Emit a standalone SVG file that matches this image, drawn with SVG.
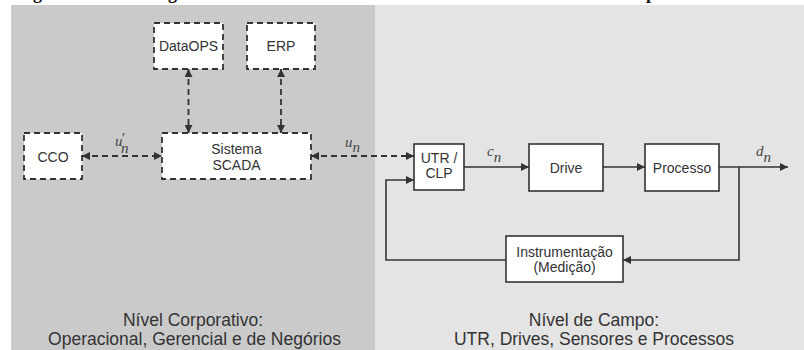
<svg xmlns="http://www.w3.org/2000/svg" width="804" height="350" viewBox="0 0 804 350">
<defs>
<marker id="ah" viewBox="0 0 10 10" refX="10" refY="5" markerWidth="9" markerHeight="8" markerUnits="userSpaceOnUse" orient="auto-start-reverse">
<path d="M0,0 L10,5 L0,10 z" fill="#333"/>
</marker>
<style>
.lbl{font-family:"Liberation Sans",Arial,sans-serif;font-size:14px;fill:#333;text-anchor:middle}
.big{font-family:"Liberation Sans",Arial,sans-serif;font-size:17.5px;fill:#333;text-anchor:middle}
.math{font-family:"Liberation Serif","Times New Roman",serif;font-style:italic;font-size:15px;fill:#444}
.ttl{font-family:"Liberation Serif","Times New Roman",serif;font-weight:bold;font-size:18px;fill:#111}
.dbox{fill:#fff;stroke:#333;stroke-width:1.8;stroke-dasharray:6,4}
.sbox{fill:#fff;stroke:#333;stroke-width:1.6}
.dl{fill:none;stroke:#333;stroke-width:1.8;stroke-dasharray:6,4}
.sl{fill:none;stroke:#333;stroke-width:1.6}
</style>
</defs>
<rect x="0" y="0" width="804" height="350" fill="#fff"/>
<text class="ttl" x="33" y="-1">g</text>
<text class="ttl" x="168" y="-1">g</text>
<text class="ttl" x="646" y="-1">p</text>
<rect x="11" y="5" width="364" height="345" fill="#cacaca"/>
<rect x="375" y="5" width="429" height="345" fill="#e4e4e4"/>
<g id="connectors">
<line class="dl" x1="188.5" y1="69" x2="188.5" y2="133" marker-start="url(#ah)" marker-end="url(#ah)"/>
<line class="dl" x1="281" y1="69" x2="281" y2="133" marker-start="url(#ah)" marker-end="url(#ah)"/>
<line class="dl" x1="82" y1="156" x2="162" y2="156" marker-start="url(#ah)" marker-end="url(#ah)"/>
<line class="dl" x1="311" y1="156" x2="414" y2="156" marker-start="url(#ah)" marker-end="url(#ah)"/>
<line class="sl" x1="464" y1="167" x2="529" y2="167" marker-end="url(#ah)"/>
<line class="sl" x1="603" y1="167" x2="645" y2="167" marker-end="url(#ah)"/>
<line class="sl" x1="719" y1="167" x2="788" y2="167" marker-end="url(#ah)"/>
<polyline class="sl" points="739,167 739,260 623,260" marker-end="url(#ah)"/>
<polyline class="sl" points="506,260 386,260 386,180 414,180" marker-end="url(#ah)"/>
<text class="math" x="115" y="146">u</text>
<text class="math" x="121" y="143" font-style="normal" font-size="12">′</text>
<text class="math" x="121" y="153">n</text>
<text class="math" x="345" y="147">u<tspan dy="5">n</tspan></text>
<text class="math" x="487" y="156">c<tspan dy="6">n</tspan></text>
<text class="math" x="756" y="156">d<tspan dy="6">n</tspan></text>
</g>
<g id="dataops"><rect class="dbox" x="154" y="23" width="69" height="46"/><text class="lbl" x="188.5" y="51">DataOPS</text></g>
<g id="erp"><rect class="dbox" x="247" y="23" width="68" height="46"/><text class="lbl" x="281" y="51">ERP</text></g>
<g id="cco"><rect class="dbox" x="24" y="133" width="58" height="46"/><text class="lbl" x="53" y="162">CCO</text></g>
<g id="scada"><rect class="dbox" x="162" y="133" width="149" height="46"/><text class="lbl" x="236.5" y="154">Sistema</text><text class="lbl" x="236.5" y="170">SCADA</text></g>
<g id="utr"><rect class="sbox" x="414" y="144" width="50" height="46"/><text class="lbl" x="439" y="163">UTR /</text><text class="lbl" x="439" y="178">CLP</text></g>
<g id="drive"><rect class="sbox" x="529" y="144" width="74" height="47"/><text class="lbl" x="566" y="173">Drive</text></g>
<g id="processo"><rect class="sbox" x="645" y="144" width="74" height="47"/><text class="lbl" x="682" y="173">Processo</text></g>
<g id="instrumentacao"><rect class="sbox" x="506" y="236" width="117" height="46"/><text class="lbl" x="564.5" y="257">Instrumentação</text><text class="lbl" x="564.5" y="272">(Medição)</text></g>
<g id="nivel-corporativo"><text class="big" x="193" y="326">Nível Corporativo:</text><text class="big" x="194.5" y="345">Operacional, Gerencial e de Negórios</text></g>
<g id="nivel-campo"><text class="big" x="594" y="326">Nível de Campo:</text><text class="big" x="594" y="345">UTR, Drives, Sensores e Processos</text></g>
</svg>
